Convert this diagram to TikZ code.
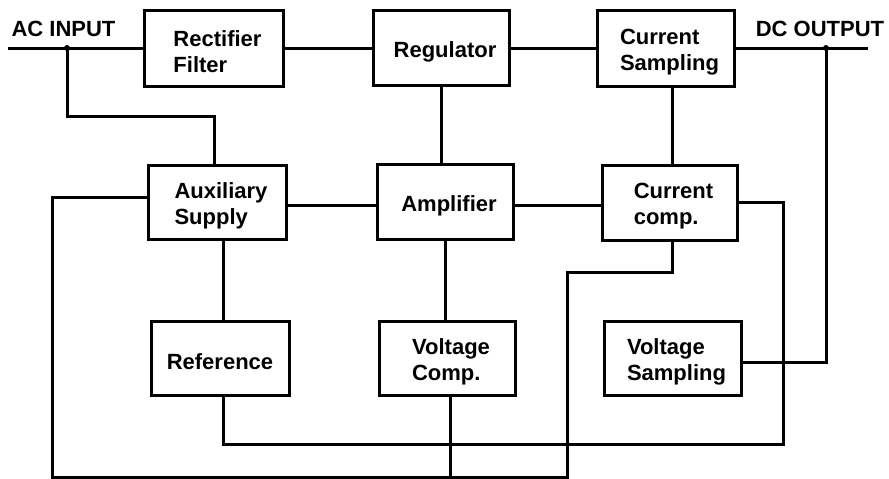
\documentclass[tikz,border=0pt]{standalone}
\usepackage{fontspec}
\setmainfont{Liberation Sans}
\begin{document}
\begin{tikzpicture}[x=1pt,y=-1pt,
  blk/.style={draw=black,line width=3pt,inner sep=0pt},
  txt/.style={inner sep=0pt,align=left,xshift=4pt,yshift=-4pt,
    font=\fontsize{22}{26}\selectfont\bfseries},
  wire/.style={draw=black,line width=3pt},
  lbl/.style={inner sep=0pt,font=\fontsize{22}{26}\selectfont\bfseries},
  dot/.style={circle,fill=black,inner sep=0pt,minimum size=6pt}]
\useasboundingbox (0,0) rectangle (889,479);
% blocks
\node[blk,minimum width=139pt,minimum height=76pt,label={[txt]center:Rectifier\\Filter}] (rect) at (213.5,48) {};
\node[blk,minimum width=136pt,minimum height=75pt,label={[txt]center:Regulator}] (reg) at (441,48) {};
\node[blk,minimum width=137pt,minimum height=76pt,label={[txt]center:Current\\Sampling}] (csamp) at (665.5,48) {};
\node[blk,minimum width=138pt,minimum height=74pt,label={[txt]center:Auxiliary\\Supply}] (aux) at (217,202) {};
\node[blk,minimum width=136pt,minimum height=75pt,label={[txt]center:Amplifier}] (amp) at (445,201.5) {};
\node[blk,minimum width=135pt,minimum height=75pt,label={[txt]center:Current\\comp.}] (ccomp) at (669.5,202.5) {};
\node[blk,minimum width=138pt,minimum height=74pt,label={[txt,xshift=-4pt]center:Reference}] (ref) at (220,358) {};
\node[blk,minimum width=136pt,minimum height=74pt,label={[txt]center:Voltage\\Comp.}] (vcomp) at (447,358) {};
\node[blk,minimum width=137pt,minimum height=74pt,label={[txt]center:Voltage\\Sampling}] (vsamp) at (672.5,358) {};
% labels
\node[lbl] (aclbl) at (63.5,29) {AC INPUT};
\node[lbl] (dclbl) at (820,29) {DC OUTPUT};
% terminals and junctions
\coordinate (acL) at (8,48);
\coordinate (dcR) at (868,48);
\node[dot] (acJ) at (67,48) {};
\node[dot] (dcJ) at (826,48) {};
\coordinate (bb) at (52,477);
\coordinate (rb) at (783,444);
\coordinate (cc) at (567,272);
% top row
\draw[wire] (acL) -- (rect.west);
\draw[wire] (rect.east) -- (reg.west);
\draw[wire] (reg.east) -- (csamp.west);
\draw[wire] (csamp.east) -- (dcR);
\draw[wire] (acJ.center) |- (67,116) -| ([xshift=-3pt]aux.north);
% verticals
\draw[wire] (reg.south) -- (reg.south |- amp.north);
\draw[wire] ([xshift=3pt]ccomp.north) -- ([xshift=3pt]ccomp.north |- csamp.south);
\draw[wire] (amp.south) -- (amp.south |- vcomp.north);
\draw[wire] ([xshift=3pt]ref.north) -- ([xshift=3pt]ref.north |- aux.south);
% middle row
\draw[wire] ([yshift=-3pt]aux.east) -- ([yshift=-3pt]aux.east -| amp.west);
\draw[wire] ([yshift=-3pt]aux.east -| amp.east) -- ([yshift=-3pt]aux.east -| ccomp.west);
% bottom bus
\draw[wire] ([xshift=3pt]ccomp.south) |- (cc) |- (bb) |- ([yshift=5pt]aux.west);
\draw[wire] ([xshift=3pt]vcomp.south) -- ([xshift=3pt]vcomp.south |- bb);
\draw[wire] (ccomp.east) -| (rb) -| ([xshift=3pt]ref.south);
\draw[wire] (dcJ.center) |- ([yshift=-4pt]vsamp.east);
\end{tikzpicture}
\end{document}
